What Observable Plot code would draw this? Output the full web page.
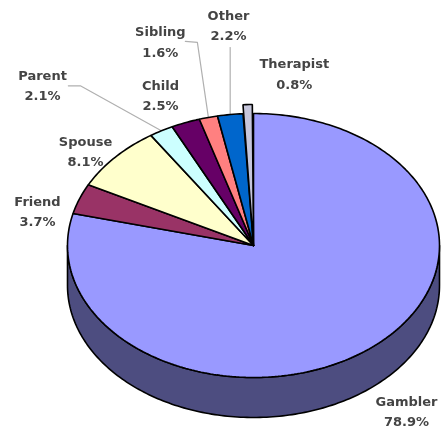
<!DOCTYPE html>
<html>
<head>
<meta charset="utf-8">
<script src="https://cdn.jsdelivr.net/npm/d3@7"></script>
<script src="https://cdn.jsdelivr.net/npm/@observablehq/plot@0.6"></script>
<style>
  html, body { margin: 0; padding: 0; background: #fff; }
  svg { display: block; filter: blur(0.45px); }
</style>
</head>
<body>
<div id="chart"></div>
<script>
// Data
const categories = ["Gambler", "Friend", "Spouse", "Parent", "Child", "Sibling", "Other", "Therapist"];
const shares = [78.9, 3.7, 8.1, 2.1, 2.5, 1.6, 2.2, 0.8];

// Styling and layout, kept apart from the data
const sliceColors = ["#9999ff", "#993366", "#ffffcc", "#ccffff", "#660066", "#ff8080", "#0066cc", "#c6c6dc"];
const wallColor = "#4d4d80";
const labelOffsetX = [38.5, -42, -29.6, -118.8, -25, -48, -1.7, 46.7];
const labelOffsetY = [60, 10.7, -7.8, -47.3, -29, -77.5, -91, -41.5];
const cx = 253, cy = 245, rx = 186, ry = 132, depth = 40;
const raised = {Therapist: 9};

const rim = (deg, lift = 0) => {
  const t = deg * Math.PI / 180;
  return {x: cx + rx * Math.sin(t), y: cy - (ry + lift) * Math.cos(t)};
};

let cumulative = 0;
const slices = categories.map((name, i) => {
  const start = cumulative * 3.6;
  cumulative += shares[i];
  const end = cumulative * 3.6;
  return {name, share: shares[i], start, end, mid: (start + end) / 2, color: sliceColors[i], i};
});

const arc = (a, b, lift = 0, dy = 0) => {
  const n = Math.max(2, Math.ceil(Math.abs(b - a)));
  return d3.range(n + 1).map(k => {
    const p = rim(a + (b - a) * k / n, lift);
    return {x: p.x, y: p.y + dy};
  });
};

const slicePoints = slices.flatMap(s => {
  const lift = raised[s.name] || 0;
  const outer = arc(s.start, s.end, lift);
  return [{x: cx, y: cy}, ...outer, {x: cx, y: cy}].map(p => ({...p, name: s.name, color: s.color}));
});

const wallSlices = slices.filter(s => s.start < 270 && s.end > 90);
const wallPoints = wallSlices.flatMap(s => {
  const a = Math.max(s.start, 90), b = Math.min(s.end, 270);
  const top = arc(a, b), bottom = arc(b, a, 0, depth);
  return [...top, ...bottom, top[0]].map(p => ({...p, name: s.name}));
});

const labels = slices.map(s => {
  const p = rim(s.mid);
  return {
    x: p.x + labelOffsetX[s.i],
    y: p.y + labelOffsetY[s.i],
    text: `${s.name}\n${s.share.toFixed(1)}%`
  };
});

// Leader lines run from a slice's rim to its label
const leaderRoutes = {
  Parent: [[-81, -45], [-93, -45]],
  Sibling: [[-11, -75], [-23, -76]],
  Other: [[0, -67]]
};
const leaderPoints = slices.filter(s => leaderRoutes[s.name]).flatMap(s => {
  const p = rim(s.mid);
  return [[0, 0], ...leaderRoutes[s.name]].map(([ox, oy]) => ({x: p.x + ox, y: p.y + oy, name: s.name}));
});

const chart = Plot.plot({
  width: 441,
  height: 434,
  margin: 0,
  x: {domain: [0, 441], range: [0, 441], axis: null},
  y: {domain: [0, 434], range: [0, 434], axis: null},
  marks: [
    Plot.line(leaderPoints, {x: "x", y: "y", z: "name", stroke: "#b0b0b0", strokeWidth: 1.2, curve: "linear"}),
    Plot.line(wallPoints, {x: "x", y: "y", z: "name", fill: wallColor, stroke: "#000", strokeWidth: 1.6, curve: "linear"}),
    Plot.line(slicePoints, {x: "x", y: "y", z: "name", fill: "color", stroke: "#000", strokeWidth: 1.6, strokeLinejoin: "miter", curve: "linear"}),
    Plot.text(labels, {
      x: "x", y: "y", text: "text",
      fontFamily: "DejaVu Sans", fontSize: 13, fontWeight: "bold",
      lineHeight: 1.58, fill: "#444", textAnchor: "middle"
    })
  ]
});
document.getElementById("chart").append(chart);
</script>
</body>
</html>
